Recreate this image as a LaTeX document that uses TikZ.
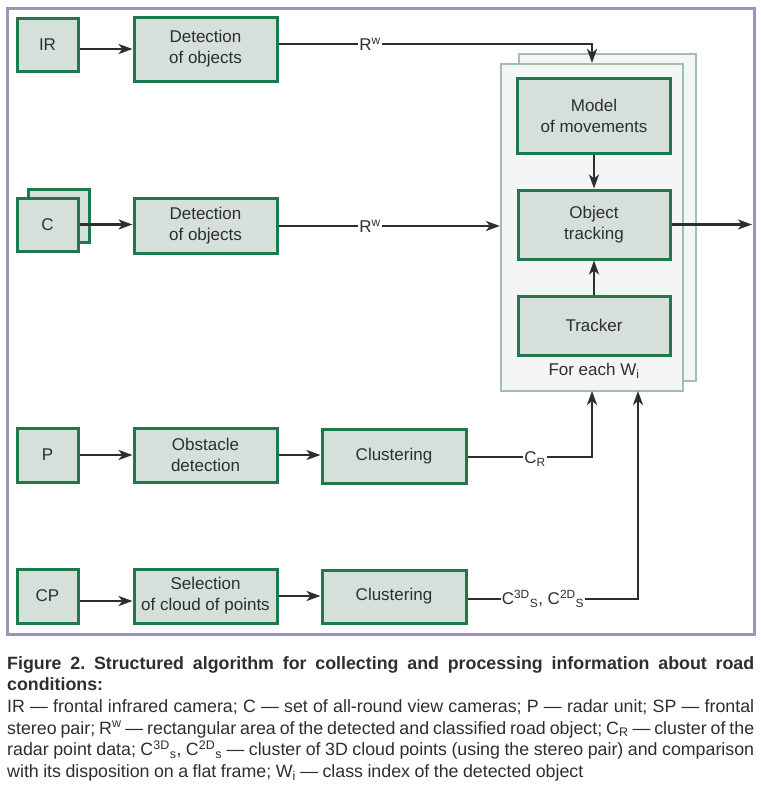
\documentclass[tikz,border=0pt]{standalone}
\usepackage{fontspec}
\setmainfont{Liberation Sans}
\usetikzlibrary{arrows.meta}
\definecolor{boxfill}{HTML}{D6E0DA}
\definecolor{boxline}{HTML}{1E7A4C}
\definecolor{contfill}{HTML}{F3F6F4}
\definecolor{contline}{HTML}{9FC0AB}
\definecolor{framec}{HTML}{9C95B7}
\definecolor{ink}{HTML}{2E2E2E}
\begin{document}
\begin{tikzpicture}[x=1pt,y=-1pt,
  blk/.style={draw=boxline,fill=boxfill,line width=3pt,inner sep=0pt,align=center,
    font=\fontsize{17}{21}\selectfont,text=ink},
  cont/.style={draw=contline,fill=contfill,line width=2.2pt,inner sep=0pt},
  arr/.style={draw=ink,line width=2.7pt,-{Stealth[length=14pt,width=10pt,inset=4pt]}},
  ln/.style={draw=ink,line width=2.7pt},
  lbl/.style={font=\fontsize{17}{21}\selectfont,text=ink,inner sep=1pt}]
\useasboundingbox (0,0) rectangle (761,788);
\draw[framec,line width=3pt] (7,8) rectangle (754,634);
% container
\node[cont,minimum width=177pt,minimum height=327pt] (contb) at (607.5,217.5) {};
\node[cont,minimum width=182pt,minimum height=327pt] (cont) at (592,227.5) {};
% boxes
\node[blk,minimum width=61pt,minimum height=53pt] (ir) at (47.5,44.5) {IR};
\node[blk,minimum width=143pt,minimum height=64pt] (det1) at (205.5,49) {Detection\\of objects};
\node[blk,minimum width=61pt,minimum height=53pt] (cb) at (58.5,215.5) {};
\node[blk,minimum width=61pt,minimum height=53pt] (c) at (47.5,224.5) {C};
\node[blk,minimum width=143pt,minimum height=55pt] (det2) at (205.5,225.5) {Detection\\of objects};
\node[blk,minimum width=153pt,minimum height=75pt] (model) at (594,115.5) {Model\\of movements};
\node[blk,minimum width=152pt,minimum height=69pt] (track) at (594,224.5) {Object\\tracking};
\node[blk,minimum width=152pt,minimum height=59pt] (tracker) at (594,325.5) {Tracker};
\node[lbl] (foreach) at (594,371) {For each W\textsubscript{i}};
\node[blk,minimum width=61pt,minimum height=54pt] (p) at (47.5,455) {P};
\node[blk,minimum width=143pt,minimum height=54pt] (obst) at (205.5,455) {Obstacle\\detection};
\node[blk,minimum width=144pt,minimum height=54pt] (clus1) at (394,456) {Clustering};
\node[blk,minimum width=61pt,minimum height=54pt] (cp) at (47.5,596) {CP};
\node[blk,minimum width=143pt,minimum height=54pt] (sel) at (205.5,596) {Selection\\of cloud of points};
\node[blk,minimum width=144pt,minimum height=53pt] (clus2) at (394,596.5) {Clustering};
% labels
\node[lbl] (rw1) at (370,44) {R\textsuperscript{w}};
\node[lbl] (rw2) at (370,226) {R\textsuperscript{w}};
\node[lbl] (cr) at (535,459) {C\textsubscript{R}};
\node[lbl] (cs) at (543,599) {C\textsuperscript{3D}\textsubscript{S}, C\textsuperscript{2D}\textsubscript{S}};
\coordinate (out) at (752,224.5);
\coordinate (in1) at (592,391);
\coordinate (in2) at (638,391);
% connectors
\draw[arr] (ir.east |- 0,49) -- (det1.west |- 0,49);
\draw[arr] (c.east) -- (det2.west |- c.east);
\draw[ln] (det1.east |- rw1) -- (rw1.west);
\draw[arr] (rw1.east) -- (rw1.east -| 592,0) -- (cont.north -| 592,0);
\draw[ln] (det2.east |- rw2) -- (rw2.west);
\draw[arr] (rw2.east) -- (cont.west |- rw2.east);
\draw[arr] (model) -- (track);
\draw[arr] (tracker) -- (track);
\draw[arr] (track.east) -- (out);
\draw[arr] (p) -- (obst);
\draw[arr] (obst) -- (clus1.west |- obst);
\draw[arr] (cp.east |- 0,601) -- (sel.west |- 0,601);
\draw[arr] (sel) -- (clus2.west |- sel);
\draw[ln] (clus1.east |- 0,457) -- (cr.west |- 0,457);
\draw[arr] (cr.east |- 0,457) -- (592,457) -- (in1);
\draw[ln] (clus2.east |- 0,599) -- (cs.west |- 0,599);
\draw[arr] (cs.east |- 0,599) -- (638,599) -- (in2);
% caption
\node[anchor=north west,inner sep=0pt,text width=747pt,align=justify,text=ink,
  font=\fontsize{17.8}{21.7}\selectfont] (cap) at (7,656) {\frenchspacing\hyphenpenalty=10000\exhyphenpenalty=10000\spaceskip=0.25em plus 0.5em minus 0.07em\relax
\textbf{Figure 2. Structured algorithm for collecting and processing information about road\linebreak conditions:}\\
IR — frontal infrared camera; C — set of all-round view cameras; P — radar unit; SP — frontal\linebreak stereo pair; R\textsuperscript{w} — rectangular area of the detected and classified road object; C\textsubscript{R} — cluster of the\linebreak radar point data; C\textsuperscript{3D}\textsubscript{s}, C\textsuperscript{2D}\textsubscript{s} — cluster of 3D cloud points (using the stereo pair) and comparison\linebreak with its disposition on a flat frame; W\textsubscript{i} — class index of the detected object};
\end{tikzpicture}
\end{document}
